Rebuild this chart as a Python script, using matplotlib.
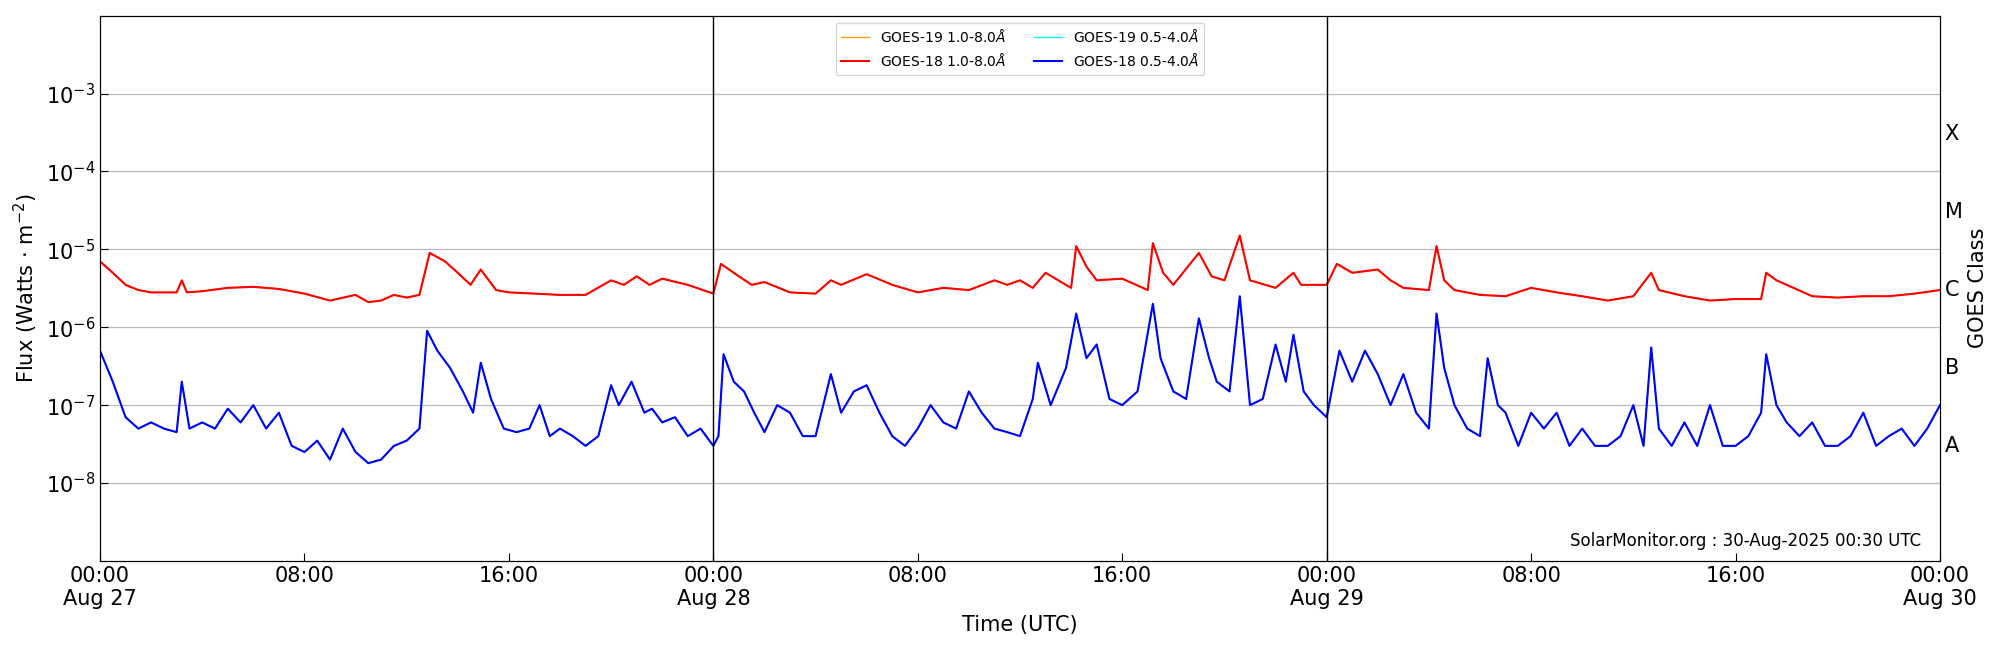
import matplotlib
matplotlib.use("Agg")
import matplotlib.pyplot as plt
import numpy as np

# hours since Aug 27 00:00 UTC
red_hours = [0, 0.5, 1, 1.5, 2, 3, 3.2, 3.4, 4, 5, 6, 7, 8, 9, 10, 10.5, 11, 11.5, 12, 12.5, 12.9,
             13.5, 14, 14.5, 14.9, 15.5, 16, 17, 18, 19, 20, 20.5, 21, 21.5, 22, 23, 24, 24.3, 25,
             25.5, 26, 27, 28, 28.6, 29, 30, 31, 32, 33, 34, 35, 35.5, 36, 36.5, 37, 38, 38.2, 38.6,
             39, 40, 41, 41.2, 41.6, 42, 43, 43.5, 44, 44.6, 45, 46, 46.7, 47, 48, 48.4, 49, 50,
             50.5, 51, 52, 52.3, 52.6, 53, 54, 55, 56, 57, 58, 59, 60, 60.7, 61, 62, 63, 64, 65,
             65.2, 65.6, 66, 67, 68, 69, 70, 71, 72]
red_flux = [7, 5, 3.5, 3, 2.8, 2.8, 4, 2.8, 2.9, 3.2, 3.3, 3.1, 2.7, 2.2, 2.6, 2.1, 2.2, 2.6, 2.4, 2.6, 9,
            7, 5, 3.5, 5.5, 3, 2.8, 2.7, 2.6, 2.6, 4, 3.5, 4.5, 3.5, 4.2, 3.5, 2.7, 6.5, 4.5,
            3.5, 3.8, 2.8, 2.7, 4, 3.5, 4.8, 3.5, 2.8, 3.2, 3, 4, 3.5, 4, 3.2, 5, 3.2, 11, 6,
            4, 4.2, 3, 12, 5, 3.5, 9, 4.5, 4, 15, 4, 3.2, 5, 3.5, 3.5, 6.5, 5, 5.5,
            4, 3.2, 3, 11, 4, 3, 2.6, 2.5, 3.2, 2.8, 2.5, 2.2, 2.5, 5, 3, 2.5, 2.2, 2.3, 2.3,
            5, 4, 3.5, 2.5, 2.4, 2.5, 2.5, 2.7, 3]  # x 1e-6 W/m^2

blue_hours = [0, 0.5, 1, 1.5, 2, 2.5, 3, 3.2, 3.5, 4, 4.5, 5, 5.5, 6, 6.5, 7, 7.5, 8, 8.5, 9, 9.5, 10,
              10.5, 11, 11.5, 12, 12.5, 12.8, 13.2, 13.7, 14.2, 14.6, 14.9, 15.3, 15.8, 16.3, 16.8,
              17.2, 17.6, 18, 18.5, 19, 19.5, 20, 20.3, 20.8, 21.3, 21.6, 22, 22.5, 23, 23.5, 24,
              24.2, 24.4, 24.8, 25.2, 25.6, 26, 26.5, 27, 27.5, 28, 28.6, 29, 29.5, 30, 30.5, 31,
              31.5, 32, 32.5, 33, 33.5, 34, 34.5, 35, 35.5, 36, 36.5, 36.7, 37.2, 37.8, 38.2, 38.6,
              39, 39.5, 40, 40.6, 41.2, 41.5, 42, 42.5, 43, 43.4, 43.7, 44.2, 44.6, 45, 45.5, 46,
              46.4, 46.7, 47.1, 47.5, 48, 48.5, 49, 49.5, 50, 50.5, 51, 51.5, 52, 52.3, 52.6, 53,
              53.5, 54, 54.3, 54.7, 55, 55.5, 56, 56.5, 57, 57.5, 58, 58.5, 59, 59.5, 60, 60.4,
              60.7, 61, 61.5, 62, 62.5, 63, 63.5, 64, 64.5, 65, 65.2, 65.6, 66, 66.5, 67, 67.5,
              68, 68.5, 69, 69.5, 70, 70.5, 71, 71.5, 72]
blue_flux = [50, 20, 7, 5, 6, 5, 4.5, 20, 5, 6, 5, 9, 6, 10, 5, 8, 3, 2.5, 3.5, 2, 5, 2.5,
             1.8, 2, 3, 3.5, 5, 90, 50, 30, 15, 8, 35, 12, 5, 4.5, 5,
             10, 4, 5, 4, 3, 4, 18, 10, 20, 8, 9, 6, 7, 4, 5, 3,
             4, 45, 20, 15, 8, 4.5, 10, 8, 4, 4, 25, 8, 15, 18, 8, 4,
             3, 5, 10, 6, 5, 15, 8, 5, 4.5, 4, 12, 35, 10, 30, 150, 40,
             60, 12, 10, 15, 200, 40, 15, 12, 130, 40, 20, 15, 250, 10, 12, 60,
             20, 80, 15, 10, 7, 50, 20, 50, 25, 10, 25, 8, 5, 150, 30, 10,
             5, 4, 40, 10, 8, 3, 8, 5, 8, 3, 5, 3, 3, 4, 10, 3,
             55, 5, 3, 6, 3, 10, 3, 3, 4, 8, 45, 10, 6, 4, 6, 3,
             3, 4, 8, 3, 4, 5, 3, 5, 10]  # x 1e-8 W/m^2

red = np.array(red_flux) * 1e-6
blue = np.array(blue_flux) * 1e-8

tick_hours = list(range(0, 73, 8))
tick_labels = ["00:00\nAug 27", "08:00", "16:00", "00:00\nAug 28", "08:00", "16:00",
               "00:00\nAug 29", "08:00", "16:00", "00:00\nAug 30"]
classes = ["A", "B", "C", "M", "X"]
class_pos = [10**-7.5, 10**-6.5, 10**-5.5, 10**-4.5, 10**-3.5]

fig = plt.figure(figsize=(20, 6.5), dpi=100)
ax = fig.add_axes([0.050, 0.137, 0.920, 0.839])

ax.plot(red_hours, red, color="orange", lw=1, label="GOES-19 1.0-8.0$\\AA$")
ax.plot(red_hours, red, color="red", lw=1.5, label="GOES-18 1.0-8.0$\\AA$")
ax.plot(blue_hours, blue, color="cyan", lw=1, label="GOES-19 0.5-4.0$\\AA$")
ax.plot(blue_hours, blue, color="blue", lw=1.5, label="GOES-18 0.5-4.0$\\AA$")

ax.set_yscale("log")
ax.set_ylim(1e-9, 1e-2)
ax.set_xlim(0, 72)
ax.set_yticks([1e-8, 1e-7, 1e-6, 1e-5, 1e-4, 1e-3])
ax.minorticks_off()
ax.set_xticks(tick_hours)
ax.set_xticklabels(tick_labels)
ax.tick_params(direction="in", labelsize=15, length=6)
for y in [1e-8, 1e-7, 1e-6, 1e-5, 1e-4, 1e-3]:
    ax.axhline(y, color="#bbbbbb", lw=0.9, zorder=0)
for d in [24, 48]:
    ax.axvline(d, color="black", lw=1)
ax.set_xlabel("Time (UTC)", fontsize=15)
ax.set_ylabel("Flux (Watts $\\cdot$ m$^{-2}$)", fontsize=15)

ax2 = ax.twinx()
ax2.set_yscale("log")
ax2.set_ylim(1e-9, 1e-2)
ax2.set_yticks(class_pos)
ax2.set_yticklabels(classes)
ax2.minorticks_off()
ax2.tick_params(length=0, labelsize=15)
ax2.set_ylabel("GOES Class", fontsize=15)

ax.legend(loc="upper center", ncol=2, fontsize=10, bbox_to_anchor=(0.5, 1.0))
ax.text(0.99, 0.02, "SolarMonitor.org : 30-Aug-2025 00:30 UTC", transform=ax.transAxes,
        ha="right", va="bottom", fontsize=12)

fig.savefig("out.png")
